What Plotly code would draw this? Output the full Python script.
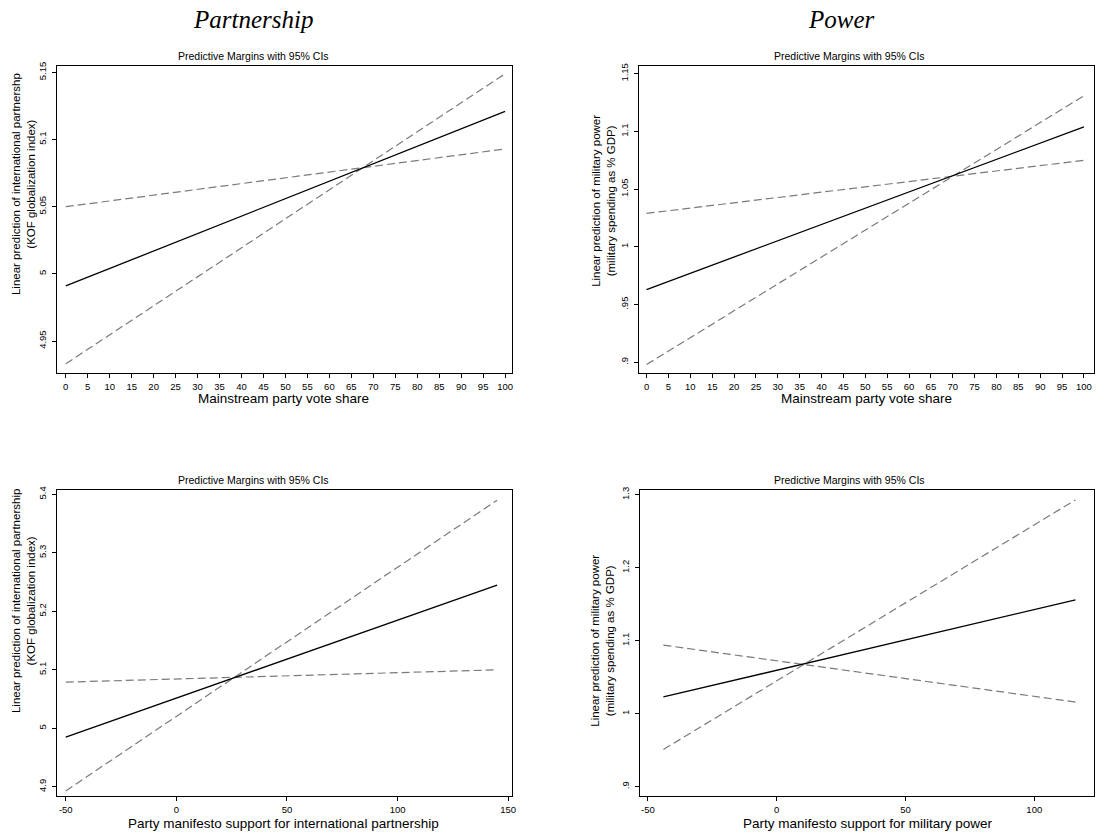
import plotly.graph_objects as go

W, H = 1107, 838

# ---------------- data ----------------
# Top-left: Partnership vs mainstream vote share
tl_x = [0, 100]
tl_margin = [4.991, 5.121]
tl_ci_a = [5.050, 5.093]
tl_ci_b = [4.933, 5.149]

# Top-right: Power vs mainstream vote share
tr_x = [0, 100]
tr_margin = [0.963, 1.104]
tr_ci_a = [1.029, 1.075]
tr_ci_b = [0.898, 1.131]

# Bottom-left: Partnership vs manifesto support
bl_x = [-50, 145]
bl_margin = [4.985, 5.245]
bl_ci_a = [5.079, 5.100]
bl_ci_b = [4.893, 5.390]

# Bottom-right: Power vs manifesto support
br_x = [-44, 116]
br_margin = [1.023, 1.156]
br_ci_a = [1.094, 1.016]
br_ci_b = [0.951, 1.293]

vote_ticks = [0, 5, 10, 15, 20, 25, 30, 35, 40, 45, 50, 55, 60, 65, 70, 75, 80, 85, 90, 95, 100]
bl_xticks = [-50, 0, 50, 100, 150]
br_xticks = [-50, 0, 50, 100]

tl_yticks = [4.95, 5.0, 5.05, 5.1, 5.15]
tl_ylabels = ["4.95", "5", "5.05", "5.1", "5.15"]
tr_yticks = [0.9, 0.95, 1.0, 1.05, 1.1, 1.15]
tr_ylabels = [".9", ".95", "1", "1.05", "1.1", "1.15"]
bl_yticks = [4.9, 5.0, 5.1, 5.2, 5.3, 5.4]
bl_ylabels = ["4.9", "5", "5.1", "5.2", "5.3", "5.4"]
br_yticks = [0.9, 1.0, 1.1, 1.2, 1.3]
br_ylabels = [".9", "1", "1.1", "1.2", "1.3"]

col_titles = ["Partnership", "Power"]
subtitle = "Predictive Margins with 95% CIs"
x_titles = ["Mainstream party vote share", "Mainstream party vote share",
            "Party manifesto support for international partnership",
            "Party manifesto support for military power"]
y_titles = ["Linear prediction of international partnershp<br>(KOF globalization index)",
            "Linear prediction of military power<br>(military spending as % GDP)",
            "Linear prediction of international partnership<br>(KOF globalization index)",
            "Linear prediction of military power<br>(military spending as % GDP)"]

# ---------------- layout helpers ----------------
def fx(p):
    return p / W

def fy(p):
    return 1 - p / H

FONT = "Liberation Sans, Arial, Helvetica, sans-serif"

panels = [
    (tl_x, tl_margin, tl_ci_a, tl_ci_b, (57, 514), (62, 371), (-2.04, 101.6), (4.926, 5.155),
     vote_ticks, tl_yticks, tl_ylabels),
    (tr_x, tr_margin, tr_ci_a, tr_ci_b, (641, 1098), (62, 371), (-1.8, 102.3), (0.8905, 1.157),
     vote_ticks, tr_yticks, tr_ylabels),
    (bl_x, bl_margin, bl_ci_a, bl_ci_b, (57, 514), (488, 796), (-54.05, 151.8), (4.884, 5.408),
     bl_xticks, bl_yticks, bl_ylabels),
    (br_x, br_margin, br_ci_a, br_ci_b, (642, 1098), (488, 796), (-53.2, 123.2), (0.887, 1.307),
     br_xticks, br_yticks, br_ylabels),
]

fig = go.Figure()
layout = dict(
    width=W, height=H, autosize=False,
    margin=dict(l=0, r=0, t=0, b=0),
    paper_bgcolor="white", plot_bgcolor="white",
    showlegend=False,
    font=dict(family=FONT, color="black", size=10),
)

for i, (xs, m, ca, cb, xd, yd, xr, yr, xt, yt, yl) in enumerate(panels):
    n = "" if i == 0 else str(i + 1)
    xa, ya = "x" + n, "y" + n
    dash_line = dict(color="#7a7a7a", width=1.2, dash="8px,4px")
    fig.add_trace(go.Scatter(x=xs, y=ca, mode="lines", line=dash_line, xaxis=xa, yaxis=ya))
    fig.add_trace(go.Scatter(x=xs, y=cb, mode="lines", line=dash_line, xaxis=xa, yaxis=ya))
    fig.add_trace(go.Scatter(x=xs, y=m, mode="lines", line=dict(color="black", width=1.3),
                             xaxis=xa, yaxis=ya))
    common = dict(showgrid=False, zeroline=False, showline=True, mirror=True,
                  linecolor="black", linewidth=1, ticks="outside", ticklen=4,
                  tickcolor="black", tickwidth=1, tickfont=dict(size=9.5, family=FONT, color="black"))
    layout["xaxis" + n] = dict(domain=[fx(xd[0]), fx(xd[1])], range=list(xr), anchor=ya,
                               tickmode="array", tickvals=xt, ticktext=[str(v) for v in xt],
                               **common)
    layout["yaxis" + n] = dict(domain=[fy(yd[1]), fy(yd[0])], range=list(yr), anchor=xa,
                               tickmode="array", tickvals=yt, ticktext=yl, tickangle=-90,
                               ticklabelstandoff=2, **common)

annotations = []
for txt, cx in zip(col_titles, [254, 845]):
    annotations.append(dict(text="<i>" + txt + "</i>", x=fx(cx), y=fy(16), xref="paper", yref="paper",
                            showarrow=False, xanchor="center", yanchor="middle",
                            font=dict(family="Liberation Serif, Times New Roman, serif", size=25,
                                      color="black")))
for cx, cy in [(254, 52), (853, 52), (254, 478), (853, 478)]:
    annotations.append(dict(text=subtitle, x=fx(cx), y=fy(cy), xref="paper", yref="paper",
                            showarrow=False, xanchor="center", yanchor="middle",
                            font=dict(family=FONT, size=10.5, color="black")))
for txt, (cx, cy) in zip(x_titles, [(285, 396), (870, 396), (285, 823), (871, 823)]):
    annotations.append(dict(text=txt, x=fx(cx), y=fy(cy), xref="paper", yref="paper",
                            showarrow=False, xanchor="center", yanchor="middle",
                            font=dict(family=FONT, size=13.5, color="black")))
for txt, (cx, cy) in zip(y_titles, [(23, 181), (605, 198), (23, 600), (605, 640)]):
    annotations.append(dict(text=txt, x=fx(cx), y=fy(cy), xref="paper", yref="paper",
                            showarrow=False, xanchor="center", yanchor="middle", textangle=-90,
                            font=dict(family=FONT, size=11.5, color="black")))

layout["annotations"] = annotations
fig.update_layout(**layout)
fig.write_html("out.html", config={"displayModeBar": False, "staticPlot": True},
               post_script="document.body.style.margin='0';")
